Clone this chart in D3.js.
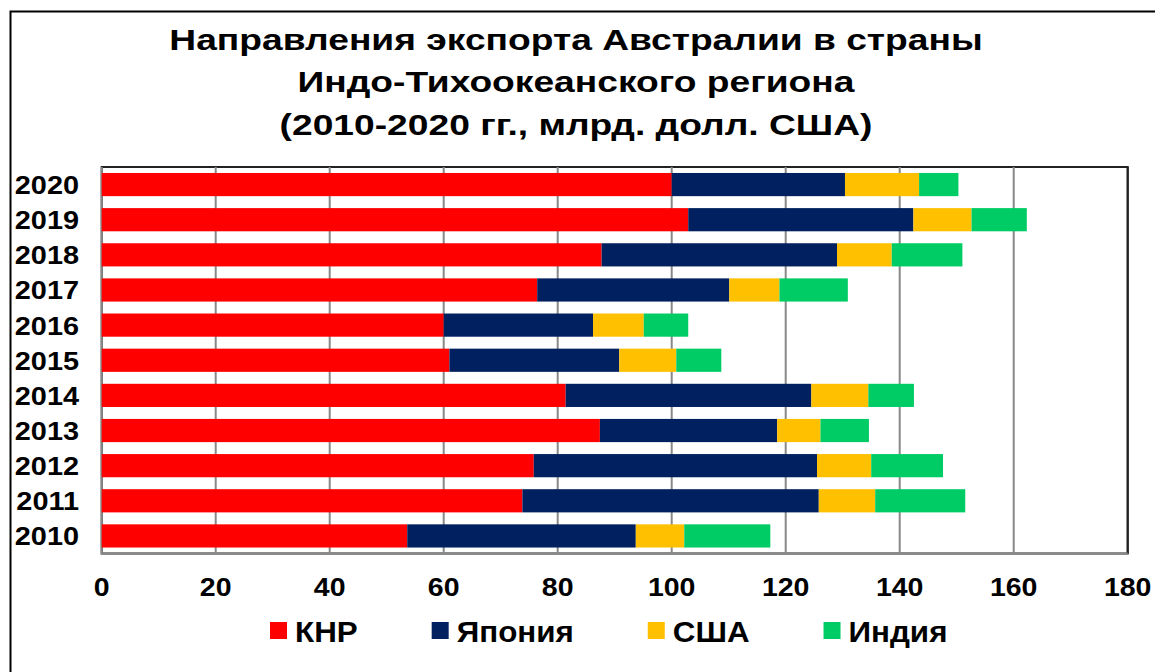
<!DOCTYPE html>
<html>
<head>
<meta charset="utf-8">
<script src="https://cdn.jsdelivr.net/npm/d3@7"></script>
<style>
  body { margin: 0; background: #fff; }
  text { font-family: "Liberation Sans", Arial, sans-serif; font-weight: bold; fill: #000; }
</style>
</head>
<body>
<div id="chart"></div>
<script>
// Data (billion USD)
const years = ["2020", "2019", "2018", "2017", "2016", "2015", "2014", "2013", "2012", "2011", "2010"];
const china = [100.0, 102.9, 87.7, 76.4, 60.0, 61.0, 81.4, 87.4, 75.8, 73.8, 53.6];
const japan = [30.4, 39.5, 41.3, 33.7, 26.2, 29.8, 43.1, 31.1, 49.7, 52.0, 40.1];
const usa = [13.0, 10.2, 9.6, 8.8, 8.9, 10.0, 10.0, 7.6, 9.5, 9.9, 8.5];
const india = [6.9, 9.7, 12.4, 12.0, 7.8, 7.9, 8.0, 8.5, 12.6, 15.8, 15.1];
const seriesNames = ["КНР", "Япония", "США", "Индия"];
const seriesColors = ["#FF0000", "#002060", "#FFC000", "#00CC66"];
const xTicks = [0, 20, 40, 60, 80, 100, 120, 140, 160, 180];
const titleLines = [
    "Направления экспорта Австралии в страны",
    "Индо-Тихоокеанского региона",
    "(2010-2020 гг., млрд. долл. США)"
];

const W = 1155, H = 672;
const plot = {left: 101.7, right: 1127.7, top: 167, bottom: 553.5};

const svg = d3.select("#chart")
    .append("svg")
    .attr("width", W)
    .attr("height", H);

// Outer frame (runs past the picture on the right and bottom)
svg.append("rect")
    .attr("x", 10.5).attr("y", 11.5)
    .attr("width", 1300).attr("height", 800)
    .attr("fill", "#fff")
    .attr("stroke", "#000")
    .attr("stroke-width", 2);

// the original text is a bit wider than Arial, so stretch it horizontally
function wideText(sel, sx) {
    return sel.attr("transform", function() {
        const px = +this.getAttribute("data-x"), py = +this.getAttribute("data-y");
        return `translate(${px},${py}) scale(${sx},1)`;
    });
}

// Title
svg.append("g")
    .selectAll("text")
    .data(titleLines)
    .join("text")
    .attr("data-x", 576)
    .attr("data-y", (d, i) => 49.5 + i * 42.5)
    .attr("text-anchor", "middle")
    .style("font-size", "30px")
    .text(d => d)
    .call(wideText, 1.24);

// Scales
const x = d3.scaleLinear()
    .domain([0, 180])
    .range([plot.left, plot.right]);

const y = d3.scaleBand()
    .domain(years)
    .range([plot.top, plot.bottom])
    .paddingInner(0.34)
    .paddingOuter(0.17);

// Stack data
const rows = years.map((yr, i) => ({
    year: yr, "КНР": china[i], "Япония": japan[i], "США": usa[i], "Индия": india[i]
}));
const stacked = d3.stack().keys(seriesNames)(rows);

// Plot border
svg.append("rect")
    .attr("x", plot.left).attr("y", plot.top)
    .attr("width", plot.right - plot.left)
    .attr("height", plot.bottom - plot.top)
    .attr("fill", "none")
    .attr("stroke", "#222")
    .attr("stroke-width", 2);

// Gridlines
svg.append("g")
    .selectAll("line")
    .data(xTicks)
    .join("line")
    .attr("x1", d => x(d)).attr("x2", d => x(d))
    .attr("y1", plot.top).attr("y2", plot.bottom)
    .attr("stroke", d => d === 180 ? "#222" : "#888")
    .attr("stroke-width", 2);

// Bars
svg.append("g")
    .selectAll("g")
    .data(stacked)
    .join("g")
    .attr("fill", (d, i) => seriesColors[i])
    .selectAll("rect")
    .data(d => d)
    .join("rect")
    .attr("x", d => x(d[0]))
    .attr("y", d => y(d.data.year))
    .attr("width", d => x(d[1]) - x(d[0]))
    .attr("height", y.bandwidth());

// Bottom axis line
svg.append("line")
    .attr("x1", plot.left - 1).attr("x2", plot.right)
    .attr("y1", plot.bottom).attr("y2", plot.bottom)
    .attr("stroke", "#888")
    .attr("stroke-width", 2);

// X tick labels
svg.append("g")
    .selectAll("text")
    .data(xTicks)
    .join("text")
    .attr("data-x", d => x(d))
    .attr("data-y", 596)
    .attr("text-anchor", "middle")
    .style("font-size", "25px")
    .text(d => d)
    .call(wideText, 1.14);

// Year labels
svg.append("g")
    .selectAll("text")
    .data(years)
    .join("text")
    .attr("data-x", 79)
    .attr("data-y", d => y(d) + y.bandwidth() / 2 + 9.5)
    .attr("text-anchor", "end")
    .style("font-size", "26.5px")
    .text(d => d)
    .call(wideText, 1.09);

// Legend
const legend = svg.append("g").attr("transform", "translate(270, 622)");
let lx = 0;
seriesNames.forEach((name, i) => {
    const item = legend.append("g").attr("transform", `translate(${lx}, 0)`);
    item.append("rect")
        .attr("width", 17).attr("height", 17)
        .attr("fill", seriesColors[i]);
    const t = item.append("text")
        .attr("data-x", 25)
        .attr("data-y", 20)
        .style("font-size", "30px")
        .text(name)
        .call(wideText, 1.045);
    lx += 25 + t.node().getComputedTextLength() * 1.045 + 74;
});
</script>
</body>
</html>
